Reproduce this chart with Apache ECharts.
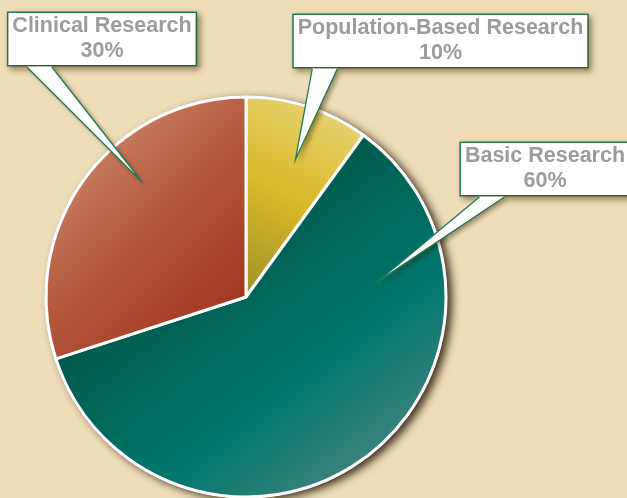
<!DOCTYPE html>
<html>
<head>
<meta charset="utf-8">
<script src="https://cdn.jsdelivr.net/npm/echarts@6/dist/echarts.min.js"></script>
<style>
html,body{margin:0;padding:0;background:#efddb9;}
#main{width:627px;height:498px;}
</style>
</head>
<body>
<div id="main"></div>
<script>
// ---- data ----
const categories = ['Population-Based Research', 'Basic Research', 'Clinical Research'];
const shares = [10, 60, 30];

// ---- layout / style (not data) ----
const boxAnchor = [[440.5, 15], [545, 143], [102, 13]];   // label box: center x, top y
const pointerAnchor = [[0.55, 0.73], [0.22, 0.66], [0.61, 0.77]]; // [fraction of slice angle, fraction of radius]
const sliceColors = [
  {type:'linear', x:1, y:0, x2:0.2, y2:1, colorStops:[{offset:0,color:'#ead985'},{offset:0.55,color:'#d9ba28'},{offset:1,color:'#a3942a'}]},
  {type:'linear', x:0.35, y:0.34, x2:0.78, y2:0.95, colorStops:[{offset:0,color:'#005a4d'},{offset:0.6,color:'#00786e'},{offset:1,color:'#44837d'}]},
  {type:'linear', x:0, y:0.1, x2:1, y2:0.9, colorStops:[{offset:0,color:'#d09479'},{offset:0.5,color:'#b4573a'},{offset:1,color:'#9e2f18'}]}
];
const border = '#237a4e';
const textGray = '#9c9c9c';

const chart = echarts.init(document.getElementById('main'), null, {renderer:'canvas'});
const labelRects = [];

chart.setOption({
  backgroundColor: '#efddb9',
  animation: false,
  series: [
    {
      type: 'pie', silent: true, z: 1,
      center: [246, 297], radius: 201, startAngle: 90,
      label: {show:false}, labelLine: {show:false},
      itemStyle: {color:'#ffffff', shadowColor:'rgba(30,18,0,0.85)', shadowBlur:9, shadowOffsetX:5, shadowOffsetY:3},
      data: [{value: 1, name: ''}]
    },
    {
      type: 'pie', z: 2,
      center: [246, 297], radius: 200, startAngle: 90, clockwise: true,
      percentPrecision: 0,
      avoidLabelOverlap: false,
      itemStyle: {borderColor:'#ffffff', borderWidth:3},
      label: {
        show: true, position: 'inside',
        overflow: 'none',
        formatter: '{b}\n{d}%',
        fontFamily: 'Liberation Sans, Arial, sans-serif', fontWeight: 'bold', fontSize: 21.5,
        lineHeight: 25, color: textGray, align: 'center',
        backgroundColor: '#ffffff', borderColor: border, borderWidth: 1.5,
        padding: [1, 4, 1, 4],
        shadowColor: 'rgba(60,40,0,0.45)', shadowBlur: 6, shadowOffsetX: 3, shadowOffsetY: 3
      },
      labelLine: {show:false},
      labelLayout: function (p) {
        const a = boxAnchor[p.dataIndex];
        labelRects[p.dataIndex] = {x: a[0] - p.labelRect.width / 2, y: a[1], w: p.labelRect.width, h: p.labelRect.height};
        return {x: a[0], y: a[1], align: 'center', verticalAlign: 'top', hideOverlap: false, moveOverlap: null};
      },
      data: categories.map((c, i) => ({name: c, value: shares[i], itemStyle: {color: sliceColors[i]}}))
    }
  ]
});

// pointer triangles, from label rects and slice layout
const data = chart.getModel().getSeriesByIndex(1).getData();
const graphics = [];
for (let i = 0; i < categories.length; i++) {
  const L = data.getItemLayout(i);
  const r = labelRects[i];
  const ang = L.startAngle + pointerAnchor[i][0] * (L.endAngle - L.startAngle);
  const tip = [L.cx + L.r * pointerAnchor[i][1] * Math.cos(ang), L.cy + L.r * pointerAnchor[i][1] * Math.sin(ang)];
  const bl = [r.x + 20, r.y + r.h - 1.5];
  const br = [r.x + 45, r.y + r.h - 1.5];
  graphics.push({type:'polygon', z: 100, shape:{points:[bl, br, tip]},
    style:{fill:'#ffffff', shadowColor:'rgba(40,25,0,0.45)', shadowBlur:5, shadowOffsetX:3, shadowOffsetY:3}});
  graphics.push({type:'polyline', z: 101, shape:{points:[[bl[0], bl[1]+0.5], tip, [br[0], br[1]+0.5]]},
    style:{stroke: border, lineWidth: 1.3, fill: null}});
}
chart.setOption({graphic: graphics});
</script>
</body>
</html>
